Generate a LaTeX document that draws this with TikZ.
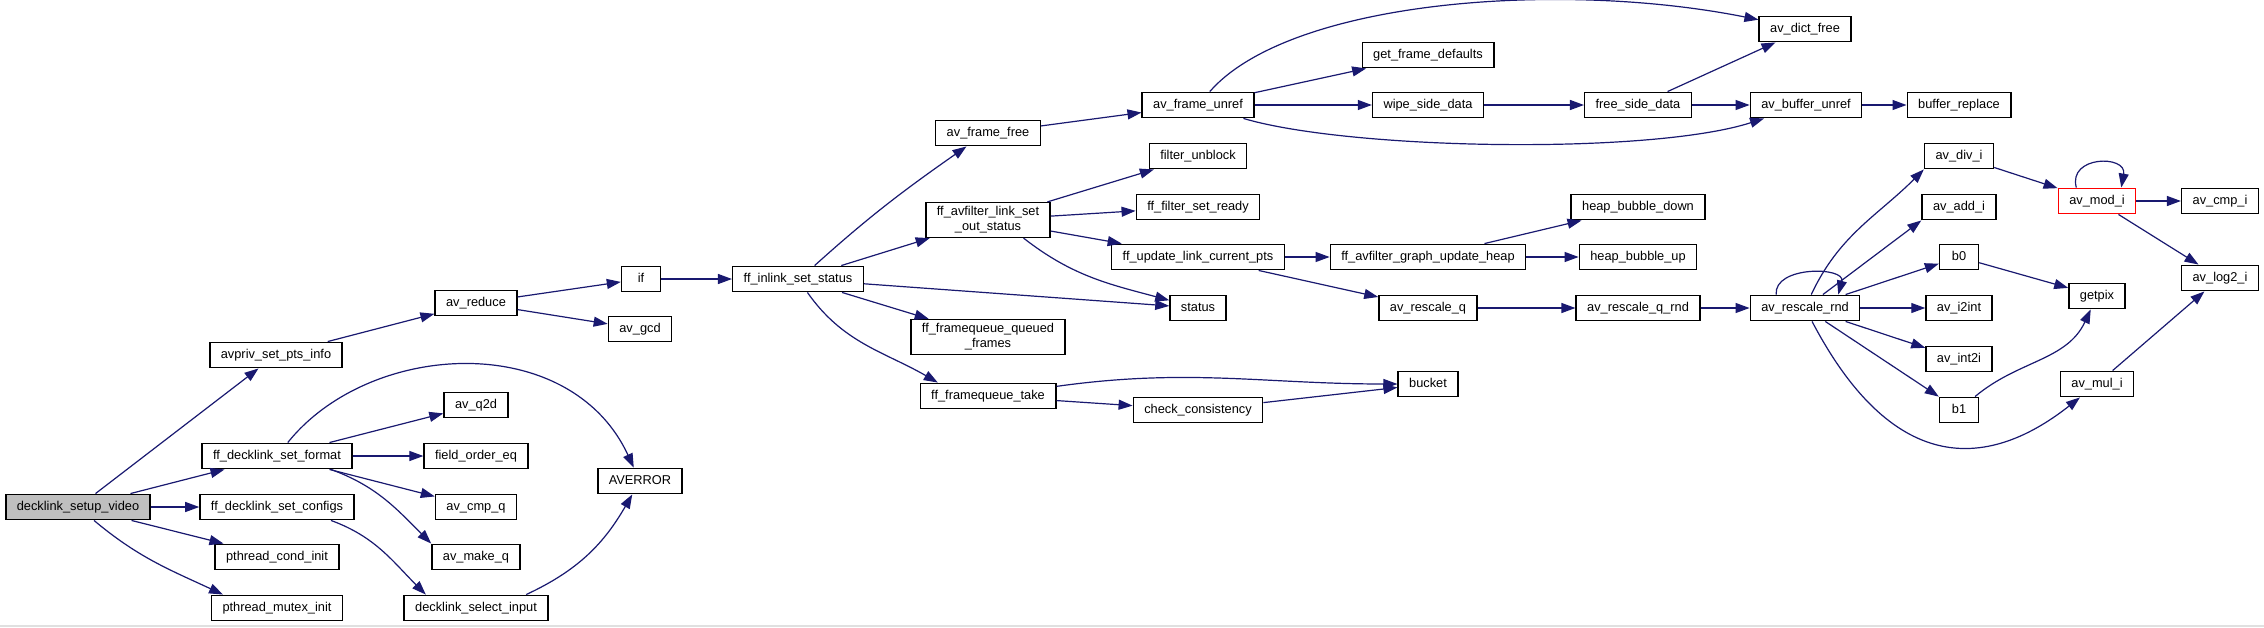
\documentclass[tikz,border=0pt]{standalone}
\usepackage{fontspec}
\setmainfont{Liberation Sans}
\usetikzlibrary{arrows.meta}
\definecolor{edgeblue}{HTML}{191970}
\newcommand{\fnfont}{\fontsize{6.4pt}{7.5pt}\selectfont}
\tikzset{
  fnbase/.style={
    draw, line width=0.7pt, fill=white,
    font=\fnfont, inner xsep=5.5pt, inner ysep=2pt,
    minimum height=12.75pt, minimum width=19.5pt
  },
  fn/.style={fnbase, text height=4.9pt, text depth=1.5pt},
  fnw/.style={fnbase, align=center},
  root/.style={fn, fill=black!25},
  hot/.style={fn, draw=red},
  call/.style={-{Triangle[length=7pt,width=5pt]}, draw=edgeblue,
    fill=none, line width=0.6pt}
}

\begin{document}
\begin{tikzpicture}[x=0.5pt, y=-0.5pt]

  \useasboundingbox[fill=white] (0,0) rectangle (2264,627);
  \draw[black!12, line width=0.6pt] (0,626) -- (2264,626);

  % callers on the left
  \node[root] (dsv)       at (78,507)  {decklink\_setup\_video};
  \node[fn]   (avpriv)    at (276,355) {avpriv\_set\_pts\_info};
  \node[fn]   (setfmt)    at (277,456) {ff\_decklink\_set\_format};
  \node[fn]   (setcfg)    at (277,507) {ff\_decklink\_set\_configs};
  \node[fn]   (condinit)  at (277,557) {pthread\_cond\_init};
  \node[fn]   (mutexinit) at (277,608) {pthread\_mutex\_init};

  \node[fn] (avreduce) at (476,303) {av\_reduce};
  \node[fn] (q2d)      at (476,405) {av\_q2d};
  \node[fn] (fieldeq)  at (476,456) {field\_order\_eq};
  \node[fn] (cmpq)     at (476,507) {av\_cmp\_q};
  \node[fn] (makeq)    at (476,557) {av\_make\_q};
  \node[fn] (selinput) at (476,608) {decklink\_select\_input};

  \node[fn] (avgcd)   at (640,329) {av\_gcd};
  \node[fn] (averror) at (640,481) {AVERROR};
  \node[fn] (ifnode)  at (641,279) {if};
  \node[fn] (inlink)  at (798,279) {ff\_inlink\_set\_status};

  % filter link status
  \node[fn]  (framefree) at (988,133) {av\_frame\_free};
  \node[fnw] (outstatus) at (988,220) {ff\_avfilter\_link\_set\\\_out\_status};
  \node[fnw] (queued)    at (988,337) {ff\_framequeue\_queued\\\_frames};
  \node[fn]  (fqtake)    at (988,396) {ff\_framequeue\_take};

  \node[fn] (frameunref) at (1198,105) {av\_frame\_unref};
  \node[fn] (unblock)    at (1198,156) {filter\_unblock};
  \node[fn] (setready)   at (1198,207) {ff\_filter\_set\_ready};
  \node[fn] (updpts)     at (1198,257) {ff\_update\_link\_current\_pts};
  \node[fn] (status)     at (1198,308) {status};
  \node[fn] (chkcons)    at (1198,410) {check\_consistency};

  \node[fn] (getdefs)  at (1428,55)  {get\_frame\_defaults};
  \node[fn] (wipe)     at (1428,105) {wipe\_side\_data};
  \node[fn] (updheap)  at (1428,257) {ff\_avfilter\_graph\_update\_heap};
  \node[fn] (rescaleq) at (1428,308) {av\_rescale\_q};
  \node[fn] (bucket)   at (1428,384) {bucket};

  \node[fn] (freeside) at (1638,105) {free\_side\_data};
  \node[fn] (bubdown)  at (1638,207) {heap\_bubble\_down};
  \node[fn] (bubup)    at (1638,257) {heap\_bubble\_up};
  \node[fn] (qrnd)     at (1638,308) {av\_rescale\_q\_rnd};

  \node[fn] (dictfree) at (1805,29)  {av\_dict\_free};
  \node[fn] (bufunref) at (1806,105) {av\_buffer\_unref};
  \node[fn] (rnd)      at (1805,308) {av\_rescale\_rnd};

  % integer helpers
  \node[fn] (bufrepl) at (1959,105) {buffer\_replace};
  \node[fn] (divi)    at (1959,156) {av\_div\_i};
  \node[fn] (addi)    at (1959,207) {av\_add\_i};
  \node[fn] (bzero)   at (1959,257) {b0};
  \node[fn] (i2int)   at (1959,308) {av\_i2int};
  \node[fn] (int2i)   at (1959,359) {av\_int2i};
  \node[fn] (bone)    at (1959,410) {b1};

  \node[hot] (modi)   at (2097,201) {av\_mod\_i};
  \node[fn]  (getpix) at (2097,296) {getpix};
  \node[fn]  (muli)   at (2097,384) {av\_mul\_i};
  \node[fn]  (cmpi)   at (2220,201) {av\_cmp\_i};
  \node[fn]  (log2i)  at (2220,278) {av\_log2\_i};

  \draw[call] (dsv) -- (avpriv);
  \draw[call] (dsv) -- (setfmt);
  \draw[call] (dsv) -- (setcfg);
  \draw[call] (dsv) -- (condinit);
  \draw[call] (dsv) to[out=-40,in=155] (mutexinit.166);

  \draw[call] (avpriv) -- (avreduce);
  \draw[call] (avreduce) -- (avgcd);
  \draw[call] (avreduce) -- (ifnode);
  \draw[call] (ifnode) -- (inlink);

  \draw[call] (setfmt) .. controls (370,340) and (570,330) .. (averror);
  \draw[call] (setfmt) -- (q2d);
  \draw[call] (setfmt) -- (fieldeq);
  \draw[call] (setfmt) -- (cmpq);
  \draw[call] (setfmt.-14) to[out=-20,in=135] (makeq.north west);
  \draw[call] (setcfg.-14) to[out=-20,in=135] (selinput.165);
  \draw[call] (selinput.15) to[out=25,in=-120] (averror);

  \draw[call] (inlink.39) to[out=42,in=-145] (framefree.-148);
  \draw[call] (inlink) -- (outstatus);
  \draw[call] (inlink) -- (status);
  \draw[call] (inlink) -- (queued);
  \draw[call] (inlink) to[out=-55,in=150] (fqtake.165);

  \draw[call] (framefree) -- (frameunref);
  \draw[call] (frameunref) .. controls (1290,0) and (1560,-20) .. (dictfree);
  \draw[call] (frameunref) -- (getdefs);
  \draw[call] (frameunref) -- (wipe);
  \draw[call] (frameunref) .. controls (1350,150) and (1650,155) .. (bufunref);
  \draw[call] (wipe) -- (freeside);
  \draw[call] (freeside) -- (dictfree);
  \draw[call] (freeside) -- (bufunref);
  \draw[call] (bufunref) -- (bufrepl);

  \draw[call] (outstatus) -- (unblock);
  \draw[call] (outstatus) -- (setready);
  \draw[call] (outstatus) -- (updpts);
  \draw[call] (outstatus.-27) to[out=-38,in=165] (status.165);
  \draw[call] (updpts) -- (updheap);
  \draw[call] (updpts) -- (rescaleq);
  \draw[call] (updheap) -- (bubdown);
  \draw[call] (updheap) -- (bubup);

  \draw[call] (fqtake) to[out=8,in=180] (bucket);
  \draw[call] (fqtake) -- (chkcons);
  \draw[call] (chkcons) -- (bucket);

  \draw[call] (rescaleq) -- (qrnd);
  \draw[call] (qrnd) -- (rnd);
  \draw[call] (rnd.155) to[out=95,in=75,looseness=1.2] (rnd.22);
  \draw[call] (rnd) to[out=65,in=-135] (divi.south west);
  \draw[call] (rnd) -- (addi.south west);
  \draw[call] (rnd) -- (bzero);
  \draw[call] (rnd) -- (i2int);
  \draw[call] (rnd) -- (int2i);
  \draw[call] (rnd) -- (bone);
  \draw[call] (rnd) .. controls (1891,472) and (1984,473) .. (muli);

  \draw[call] (divi) -- (modi);
  \draw[call] (modi.147) to[out=105,in=80,looseness=1.9] (modi.29);
  \draw[call] (modi) -- (cmpi);
  \draw[call] (modi) -- (log2i);
  \draw[call] (bzero) -- (getpix);
  \draw[call] (bone) to[out=40,in=-115] (getpix);
  \draw[call] (muli) -- (log2i);

\end{tikzpicture}
\end{document}
